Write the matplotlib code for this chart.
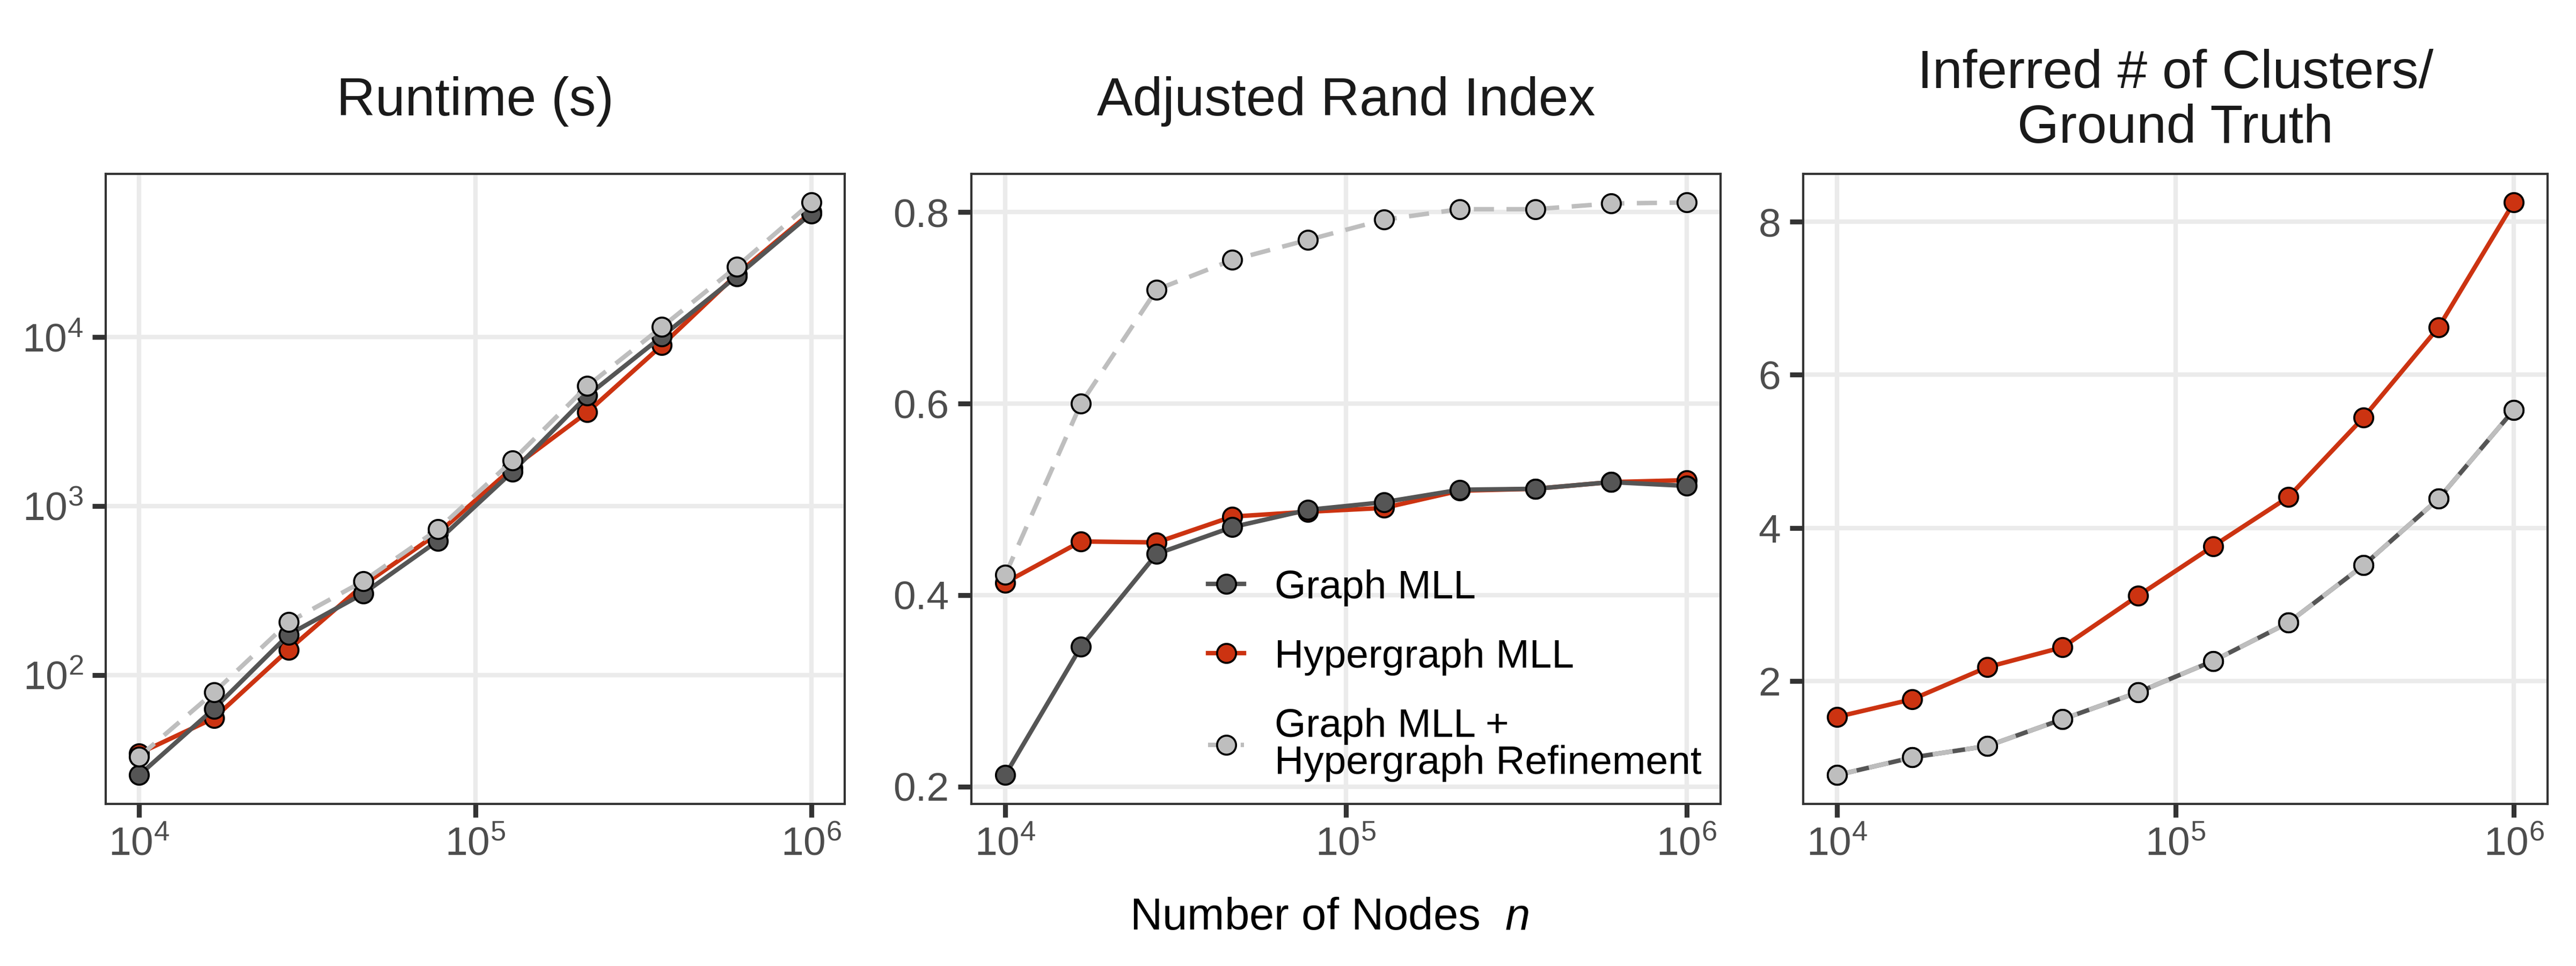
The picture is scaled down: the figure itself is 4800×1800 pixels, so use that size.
import numpy as np
import matplotlib
matplotlib.use('Agg')
from matplotlib import pyplot as plt
from matplotlib.ticker import LogFormatterMathtext, FixedLocator, FormatStrFormatter

plt.rcParams['font.family'] = ['Liberation Sans', 'DejaVu Sans']
plt.rcParams['mathtext.fontset'] = 'custom'
plt.rcParams['mathtext.rm'] = 'Liberation Sans'
plt.rcParams['mathtext.it'] = 'Liberation Sans:italic'

# number of nodes (x, shared by all panels)
n_nodes = [10000, 16681, 27826, 46416, 77426, 129155, 215443, 359381, 599484, 1000000]

series_names = ['Graph MLL', 'Hypergraph MLL', 'Graph MLL +\nHypergraph Refinement']

# runtime (s)
runtime_graph = [25.5, 63, 173, 303, 623, 1600, 4500, 10100, 22900, 54000]
runtime_hyper = [34.3, 55.4, 141, 340, 690, 1680, 3590, 8950, 23500, 55000]
runtime_refined = [32.8, 78.7, 205, 359, 728, 1860, 5130, 11500, 26100, 62700]

# adjusted rand index
ari_graph = [0.212, 0.346, 0.443, 0.471, 0.489, 0.497, 0.510, 0.511, 0.518, 0.514]
ari_hyper = [0.413, 0.456, 0.455, 0.482, 0.487, 0.491, 0.509, 0.511, 0.518, 0.520]
ari_refined = [0.421, 0.600, 0.719, 0.750, 0.771, 0.792, 0.803, 0.803, 0.809, 0.810]

# inferred # clusters / ground truth
ratio_graph = [0.77, 1.00, 1.15, 1.50, 1.85, 2.26, 2.76, 3.51, 4.38, 5.54]
ratio_hyper = [1.53, 1.76, 2.18, 2.44, 3.11, 3.76, 4.40, 5.44, 6.62, 8.25]
ratio_refined = [0.77, 1.00, 1.15, 1.50, 1.85, 2.26, 2.76, 3.51, 4.38, 5.54]

titles = ['Runtime (s)', 'Adjusted Rand Index', 'Inferred # of Clusters/\nGround Truth']

col_graph = '#555555'
col_hyper = '#CC3311'
col_refined = '#BEBEBE'


def draw_panel(ax, y_graph, y_hyper, y_refined, title):
    lw = 2.0
    ms = 8.5
    h_hyper, = ax.plot(n_nodes, y_hyper, '-o', color=col_hyper, lw=lw, ms=ms,
                       mfc=col_hyper, mec='black', mew=0.9, zorder=3)
    h_graph, = ax.plot(n_nodes, y_graph, '-o', color=col_graph, lw=lw, ms=ms,
                       mfc=col_graph, mec='black', mew=0.9, zorder=4)
    h_ref, = ax.plot(n_nodes, y_refined, '--o', color=col_refined, lw=lw, ms=ms,
                     mfc=col_refined, mec='black', mew=0.9, dashes=(4.5, 2.8), zorder=5)

    ax.set_xscale('log')
    ax.xaxis.set_major_locator(FixedLocator([1e4, 1e5, 1e6]))
    ax.xaxis.set_major_formatter(LogFormatterMathtext())
    ax.xaxis.set_minor_locator(FixedLocator([]))
    ax.margins(x=0.05, y=0.05)

    ax.grid(True, which='major', color='#EBEBEB', lw=2.0, zorder=0)
    ax.set_axisbelow(True)
    for s in ax.spines.values():
        s.set_color('#333333')
        s.set_linewidth(1.0)
    ax.tick_params(axis='both', which='major', length=6, width=2.2, color='#333333',
                   labelsize=18, labelcolor='#4D4D4D', pad=4)
    ax.tick_params(which='minor', length=0)

    ax.text(0.5, 1.115, title, transform=ax.transAxes, ha='center', va='center',
            fontsize=24, color='#1A1A1A', linespacing=1.1)
    return h_graph, h_hyper, h_ref


def draw(pathout):
    fig = plt.figure(figsize=(16, 6), dpi=300, facecolor='w')
    ax1 = fig.add_axes([0.041, 0.168, 0.287, 0.652])
    ax2 = fig.add_axes([0.377, 0.168, 0.291, 0.652])
    ax3 = fig.add_axes([0.700, 0.168, 0.289, 0.652])

    draw_panel(ax1, runtime_graph, runtime_hyper, runtime_refined, titles[0])
    ax1.set_yscale('log')
    ax1.yaxis.set_major_locator(FixedLocator([1e2, 1e3, 1e4]))
    ax1.yaxis.set_major_formatter(LogFormatterMathtext())
    ax1.yaxis.set_minor_locator(FixedLocator([]))

    handles = draw_panel(ax2, ari_graph, ari_hyper, ari_refined, titles[1])
    ax2.yaxis.set_major_locator(FixedLocator([0.2, 0.4, 0.6, 0.8]))
    ax2.yaxis.set_major_formatter(FormatStrFormatter('%.1f'))

    draw_panel(ax3, ratio_graph, ratio_hyper, ratio_refined, titles[2])
    ax3.yaxis.set_major_locator(FixedLocator([2, 4, 6, 8]))
    ax3.yaxis.set_major_formatter(FormatStrFormatter('%d'))

    leg = ax2.legend(handles, series_names, loc='lower left', bbox_to_anchor=(0.316, 0.035),
                     frameon=False, fontsize=18, handlelength=0.9, handletextpad=0.75,
                     labelspacing=0.8, borderpad=0, borderaxespad=0)
    for t in leg.get_texts():
        t.set_linespacing(1.0)

    fig.text(0.516, 0.038, 'Number of Nodes  $n$', ha='center', va='baseline',
             fontsize=20, color='black')

    fig.savefig(pathout, dpi=300)
    plt.close()


if __name__ == '__main__':
    draw('out.png')
